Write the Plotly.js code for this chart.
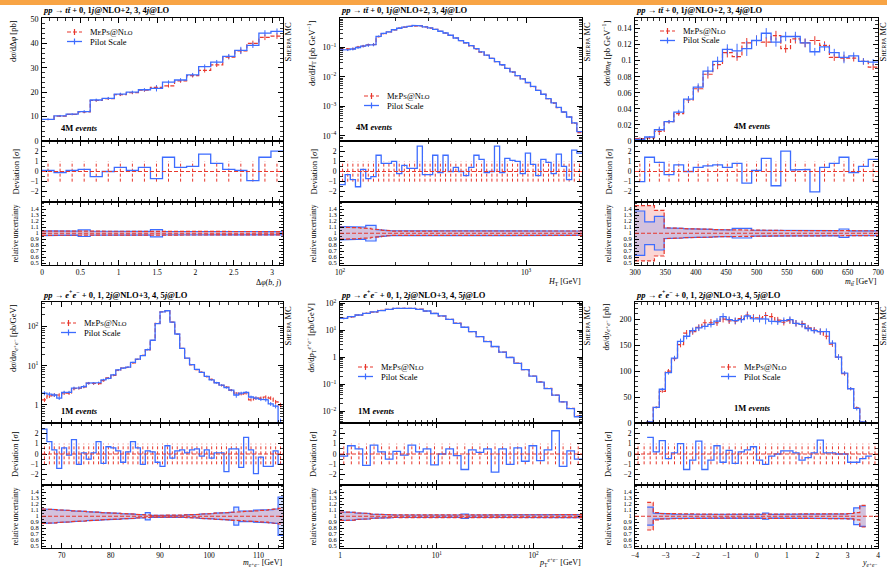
<!DOCTYPE html>
<html>
<head>
<meta charset="utf-8">
<script src="https://cdn.plot.ly/plotly-3.0.1.min.js"></script>
<style>
html,body{margin:0;padding:0;background:#ffffff;}
#chart{width:887px;height:567px;}
</style>
</head>
<body>
<div id="chart"></div>
<script>
// ================= DATA =================
// binning: [low, high, number of bins, logarithmic]
const dphiBinning = [0, Math.PI, 20, false];
const dphiRef   = [8.8,10.2,10.9,11.9,16.6,17.4,19.0,19.8,20.8,22.0,22.6,24.6,26.8,28.9,31.2,34.4,36.9,40.0,42.5,43.0];
const dphiPilot = [8.9,10.3,11.0,12.0,16.8,17.5,19.2,20.0,21.0,21.6,24.1,25.0,27.1,30.5,32.3,34.7,37.1,39.2,44.2,44.9];
const dphiDev   = [0.1,-0.1,0.1,0.2,-0.5,0.0,0.4,0.1,0.4,-0.7,1.4,0.4,0.5,1.7,0.8,0.2,0.1,-0.9,1.4,2.0];
const dphiRelRef   = [0.035,0.035,0.033,0.033,0.032,0.032,0.031,0.031,0.030,0.030,0.030,0.030,0.029,0.029,0.028,0.028,0.028,0.028,0.027,0.027];
const dphiRelPilot = [0.040,0.036,0.033,0.055,0.034,0.032,0.031,0.031,0.030,0.060,0.030,0.030,0.029,0.029,0.028,0.028,0.040,0.028,0.027,0.027];

const htBinning = [100, 2000, 47, true];
const htRef = [0.088,0.086,0.091,0.104,0.111,0.122,0.127,0.235,0.295,0.335,
               0.395,0.452,0.487,0.518,0.545,0.545,0.498,0.455,0.41,0.35,
               0.31,0.258,0.21,0.171,0.144,0.114,0.089,0.07,0.0545,0.043,
               0.033,0.0255,0.0195,0.0146,0.011,0.0086,0.0064,0.0047,0.0035,0.0026,
               0.00183,0.0013,0.00092,0.00064,0.00044,0.00027,0.00013];
const htPilot = [0.083,0.085,0.089,0.10,0.112,0.12,0.126,0.24,0.30,0.34,
                 0.40,0.45,0.49,0.52,0.56,0.54,0.50,0.46,0.41,0.355,
                 0.31,0.26,0.21,0.17,0.145,0.115,0.091,0.071,0.055,0.043,
                 0.033,0.026,0.0195,0.0148,0.0112,0.0087,0.0065,0.0048,0.0035,0.0026,
                 0.00186,0.00132,0.00093,0.00065,0.00044,0.00028,0.00014];
const htDev = [-1.3,-0.3,-0.8,-1.5,0.2,-0.7,-0.5,1.6,0.8,0.8,
               1.0,-0.2,0.6,0.3,0.3,2.5,-0.3,-0.3,1.6,-0.1,
               1.6,0.0,0.4,0.0,-0.4,0.4,1.6,1.2,-0.1,0.0,
               2.5,-0.1,1.3,1.1,1.0,-0.2,1.8,0.7,-0.4,1.2,
               0.9,-0.2,1.7,0.5,-0.8,2.1,1.8];
const htRelRef = [0.100,0.100,0.095,0.090,0.085,0.080,0.070,0.060,0.050,0.042,
                  0.036,0.033,0.032,0.031,0.030,0.030,0.030,0.030,0.030,0.030,
                  0.030,0.030,0.030,0.030,0.030,0.030,0.030,0.030,0.030,0.030,
                  0.030,0.030,0.030,0.030,0.030,0.030,0.030,0.030,0.030,0.030,
                  0.030,0.030,0.030,0.032,0.033,0.035,0.037];
const htRelPilot = [0.110,0.110,0.110,0.105,0.100,0.130,0.130,0.060,0.050,0.042,
                    0.036,0.033,0.032,0.031,0.030,0.038,0.030,0.030,0.030,0.030,
                    0.030,0.030,0.030,0.030,0.030,0.030,0.030,0.030,0.030,0.030,
                    0.030,0.030,0.030,0.030,0.040,0.040,0.030,0.030,0.030,0.030,
                    0.030,0.030,0.030,0.032,0.040,0.040,0.037];

const mttBinning = [300, 700, 25, false];
const mttRef   = [0.003,0.004,0.012,0.024,0.034,0.051,0.065,0.083,0.095,0.110,0.105,0.122,0.125,0.123,0.131,0.115,0.127,0.122,0.125,0.119,0.104,0.103,0.103,0.099,0.092];
const mttPilot = [0.002,0.005,0.014,0.024,0.036,0.052,0.067,0.087,0.099,0.114,0.112,0.115,0.125,0.134,0.123,0.130,0.130,0.122,0.111,0.117,0.110,0.104,0.106,0.099,0.098];
const mttDev   = [-1.0,1.4,0.9,-0.3,0.65,0.0,0.4,0.55,0.65,0.4,0.8,-1.15,0.1,1.3,-1.4,2.0,0.15,0.2,-2.0,0.4,0.8,1.4,-0.1,0.5,1.2];
const mttRelRef   = [0.46,0.46,0.38,0.090,0.080,0.075,0.070,0.065,0.060,0.055,0.050,0.050,0.050,0.048,0.046,0.045,0.045,0.044,0.043,0.042,0.042,0.041,0.040,0.040,0.040];
const mttRelPilot = [0.37,0.19,0.28,0.090,0.080,0.075,0.070,0.065,0.060,0.055,0.080,0.080,0.050,0.048,0.046,0.045,0.045,0.044,0.043,0.042,0.042,0.070,0.040,0.040,0.040];

const meeBinning = [66, 115, 49, false];
const meeRef = [1.35,1.7,1.8,1.8,2.0,2.0,2.6,2.7,2.9,3.6,
                3.5,3.5,4.2,4.9,5.7,7.7,8.8,9.2,11.8,14.6,
                18.6,25.5,45,122,238,255,131,64,28,15.6,
                10.6,8.0,6.9,5.3,4.5,3.7,3.15,2.85,2.4,2.0,
                1.9,2.0,1.35,1.5,1.5,1.6,1.5,1.2,1.0];
const meePilot = [2.0,1.9,1.8,1.5,2.1,2.1,2.7,2.75,2.95,3.6,
                  3.6,3.7,4.4,4.8,5.9,7.9,8.7,9.3,12.3,14.8,
                  18.2,26,45,120,240,255,130,65,28,15.8,
                  10.7,8.1,6.8,5.4,4.4,3.7,3.2,2.8,2.4,1.8,
                  2.0,2.1,1.6,1.5,1.4,1.35,1.07,0.93,0.34];
const meeDev = [2.4,1.2,0.4,-1.4,0.6,-0.1,1.4,-1.0,0.1,-0.5,
                0.1,1.2,-0.9,0.7,0.6,0.3,-0.8,0.2,1.2,0.6,
                -1.0,0.3,0.2,-0.8,-1.2,0.8,-0.4,0.3,0.4,0.1,
                0.4,0.5,-0.2,0.4,-0.4,0.1,0.1,-1.7,0.5,0.5,
                -1.3,1.6,0.4,-1.9,-0.3,-1.2,-1.2,0.3,-1.0];
const meeRelRef = [0.120,0.115,0.110,0.105,0.100,0.095,0.090,0.085,0.080,0.075,
                   0.070,0.065,0.060,0.056,0.052,0.048,0.044,0.040,0.035,0.030,
                   0.026,0.020,0.015,0.010,0.006,0.006,0.010,0.014,0.018,0.022,
                   0.026,0.030,0.035,0.040,0.045,0.050,0.055,0.060,0.065,0.070,
                   0.075,0.080,0.085,0.090,0.095,0.100,0.110,0.120,0.130];
const meeRelPilot = [0.120,0.115,0.110,0.105,0.100,0.095,0.090,0.085,0.080,0.075,
                     0.070,0.065,0.060,0.056,0.052,0.048,0.044,0.040,0.035,0.030,
                     0.026,0.060,0.015,0.010,0.006,0.006,0.010,0.014,0.018,0.022,
                     0.026,0.030,0.035,0.040,0.045,0.050,0.055,0.060,0.065,0.150,
                     0.090,0.080,0.085,0.100,0.100,0.100,0.110,0.120,0.320];

const ptBinning = [1, 316.2, 32, true];
const ptRef   = [27.8,31.5,36.5,43,47.5,54.5,59.5,65.5,67,64.5,
                 61,51.5,42.5,33.8,25.5,18.3,12.9,8.9,5.75,3.9,
                 2.48,1.56,0.99,0.6,0.35,0.201,0.121,0.07,0.039,0.0222,
                 0.0126,0.0066];
const ptPilot = [27.5,32,37,42.5,48,54,60,65,67,65,
                 60,52,42,34,25.5,18,13,8.9,5.8,3.8,
                 2.5,1.55,0.98,0.59,0.35,0.20,0.12,0.069,0.039,0.022,
                 0.0125,0.0062];
const ptDev = [-0.2,0.8,0.5,-1.1,0.85,0.2,-0.5,0.25,-0.1,0.85,
               0.2,0.5,-1.05,0.0,0.5,-0.15,-1.5,0.4,0.15,0.5,
               -1.75,0.5,-1.0,0.6,-0.7,0.8,-0.65,0.4,2.25,-1.2,
               0.3,-0.5];
const ptRelRef = [0.070,0.065,0.055,0.045,0.035,0.028,0.024,0.022,0.020,0.020,
                  0.020,0.020,0.020,0.020,0.020,0.020,0.020,0.020,0.020,0.020,
                  0.020,0.020,0.020,0.020,0.020,0.020,0.020,0.020,0.020,0.020,
                  0.022,0.025];
const ptRelPilot = [0.070,0.065,0.055,0.045,0.035,0.028,0.024,0.022,0.020,0.020,
                    0.020,0.020,0.020,0.020,0.020,0.020,0.035,0.020,0.020,0.020,
                    0.025,0.020,0.030,0.020,0.025,0.020,0.020,0.022,0.020,0.020,
                    0.022,0.025];

const yBinning = [-4, 4, 40, false];
const yRef   = [0,0,2,30,61,100,124,151,173,176,
                184,193,194,193,200,197,196,201,208,203,
                202,207,205,198,194,197,192,191,183,179,
                176,167,152,127,95,66,29,2,0,0];
const yPilot = [0,0,2,30,65,97,125,157,167,178,
                183,186,190,196,205,199,197,199,206,201,
                200,200,196,195,197,199,192,190,182,178,
                176,176,154,127,96,66,28,2,0,0];
const yDev = [null,null,1.6,0.2,1.3,-0.45,0.1,1.0,-1.5,-0.6,
              1.25,-1.5,-0.6,0.8,-0.8,0.35,-0.9,0.2,0.4,0.7,
              -0.6,-1.0,-0.2,0.0,0.3,0.3,0.1,-0.6,-0.35,0.1,
              1.35,0.1,0.1,0.0,0.0,-0.8,-0.8,-0.45,-0.2,null];
const yRelRef = [null,null,0.230,0.060,0.045,0.040,0.040,0.035,0.035,0.035,
                 0.033,0.033,0.033,0.032,0.032,0.032,0.032,0.032,0.032,0.032,
                 0.032,0.032,0.032,0.032,0.032,0.032,0.032,0.033,0.033,0.033,
                 0.034,0.035,0.035,0.040,0.040,0.045,0.060,0.180,null,null];
const yRelPilot = [null,null,0.150,0.050,0.040,0.040,0.035,0.035,0.035,0.033,
                   0.033,0.033,0.032,0.032,0.032,0.032,0.032,0.032,0.032,0.032,
                   0.032,0.050,0.032,0.032,0.032,0.032,0.032,0.033,0.033,0.033,
                   0.034,0.035,0.035,0.040,0.040,0.045,0.140,0.170,null,null];

const legendRef = 'M<span style="font-size:6.5px">E</span>P<span style="font-size:6.5px">S</span>@N<span style="font-size:6.5px">LO</span>';
const legendPilot = 'Pilot Scale';

// ================= STYLE / GEOMETRY =================
const RED = '#e8372c', BLUE = '#3d6cff';
const RED_FILL = 'rgba(235,70,60,0.22)', BLUE_FILL = 'rgba(70,120,255,0.22)';
const FONT = 'Liberation Serif, DejaVu Serif, serif';
const W = 887, H = 567;
const px = v => v / W;
const py = v => 1 - v / H;
const cols = [[42,283],[340,582],[635,878]];
const rows = [{main:[18,141],dev:[141,202],rel:[202,265],xt:17},{main:[302,423],dev:[423,485],rel:[485,548],xt:14.5}];

function logMinor(d0, d1) { const v = []; for (let d = d0; d <= d1; d++) for (let m = 2; m <= 9; m++) v.push(m * Math.pow(10, d)); return v; }
const sup = s => '10<sup>' + s + '</sup>';

const ttTitle = '<b><i>pp</i> → <i>t</i><i>t̄</i> + 0, 1<i>j</i>@NLO+2, 3, 4<i>j</i>@LO</b>';
const eeTitle = '<b><i>pp</i> → <i>e</i><sup>+</sup><i>e</i><sup>−</sup> + 0, 1, 2<i>j</i>@NLO+3, 4, 5<i>j</i>@LO</b>';

const panels = [
  {col:0,row:0,binning:dphiBinning,ref:dphiRef,pilot:dphiPilot,dev:dphiDev,relRef:dphiRelRef,relPilot:dphiRelPilot,
   title:ttTitle,events:'4M',evPos:[60,128],leg:[67,32],
   x:{type:'linear',range:[0,Math.PI],dtick:0.5,minor:{dtick:0.1}},
   y:{type:'linear',range:[0,50.4],dtick:10,minor:{dtick:2}},
   ytitle:'d<i>σ</i>/dΔ<i>φ</i> [pb]', xtitle:'Δ<i>φ</i>(<i>b</i>, <i>j</i>)'},
  {col:1,row:0,binning:htBinning,ref:htRef,pilot:htPilot,dev:htDev,relRef:htRelRef,relPilot:htRelPilot,
   title:ttTitle,events:'4M',evPos:[355,127],leg:[364,96],
   x:{type:'log',range:[2,Math.log10(2000)],tickvals:[100,1000],ticktext:[sup(2),sup(3)],minor:{tickmode:'array',tickvals:logMinor(2,3)}},
   y:{type:'log',range:[-4.17,0],tickvals:[1e-4,1e-3,1e-2,1e-1],ticktext:[sup('−4'),sup('−3'),sup('−2'),sup('−1')],minor:{tickmode:'array',tickvals:logMinor(-5,-1)}},
   ytitle:'d<i>σ</i>/d<i>H</i><sub>T</sub> [pb GeV<sup>−1</sup>]', xtitle:'<i>H</i><sub>T</sub> [GeV]'},
  {col:2,row:0,binning:mttBinning,ref:mttRef,pilot:mttPilot,dev:mttDev,relRef:mttRelRef,relPilot:mttRelPilot,
   title:ttTitle,events:'4M',evPos:[733,126],leg:[660,31],
   x:{type:'linear',range:[300,700],dtick:50,minor:{dtick:10}},
   y:{type:'linear',range:[0,0.153],dtick:0.02,minor:{dtick:0.005}},
   ytitle:'d<i>σ</i>/d<i>m</i><sub><i>tt̄</i></sub> [pb GeV<sup>−1</sup>]', xtitle:'<i>m</i><sub><i>tt̄</i></sub> [GeV]'},
  {col:0,row:1,binning:meeBinning,ref:meeRef,pilot:meePilot,dev:meeDev,relRef:meeRelRef,relPilot:meeRelPilot,
   title:eeTitle,events:'1M',evPos:[60,411],leg:[61,323],
   x:{type:'linear',range:[66,115],dtick:10,minor:{dtick:2}},
   y:{type:'log',range:[-0.46,2.63],tickvals:[1,10,100],ticktext:['1',sup(1),sup(2)],minor:{tickmode:'array',tickvals:logMinor(-1,2)}},
   ytitle:'d<i>σ</i>/d<i>m</i><sub><i>e</i>⁺<i>e</i>⁻</sub> [pb/GeV]', xtitle:'<i>m</i><sub><i>e</i>⁺<i>e</i>⁻</sub> [GeV]'},
  {col:1,row:1,binning:ptBinning,ref:ptRef,pilot:ptPilot,dev:ptDev,relRef:ptRelRef,relPilot:ptRelPilot,
   title:eeTitle,events:'1M',evPos:[357,411],leg:[358,367],
   x:{type:'log',range:[0,2.5],tickvals:[1,10,100],ticktext:['1',sup(1),sup(2)],minor:{tickmode:'array',tickvals:logMinor(0,2)}},
   y:{type:'log',range:[-2.44,2.05],tickvals:[0.01,0.1,1,10,100],ticktext:[sup('−2'),sup('−1'),'1',sup(1),sup(2)],minor:{tickmode:'array',tickvals:logMinor(-3,2)}},
   ytitle:'d<i>σ</i>/d<i>p</i><sub>T</sub><sup><i>e</i>⁺<i>e</i>⁻</sup> [pb/GeV]', xtitle:'<i>p</i><sub>T</sub><sup><i>e</i>⁺<i>e</i>⁻</sup> [GeV]'},
  {col:2,row:1,binning:yBinning,ref:yRef,pilot:yPilot,dev:yDev,relRef:yRelRef,relPilot:yRelPilot,
   title:eeTitle,events:'1M',evPos:[733,408],leg:[721,367],
   x:{type:'linear',range:[-4,4],dtick:1,minor:{dtick:0.2}},
   y:{type:'linear',range:[0,233],dtick:50,minor:{dtick:10}},
   ytitle:'d<i>σ</i>/d<i>y</i><sub><i>e</i>⁺<i>e</i>⁻</sub> [pb]', xtitle:'<i>y</i><sub><i>e</i>⁺<i>e</i>⁻</sub>'}
];

// ================= HELPERS =================
function binEdges(b) {
  const [lo, hi, n, lg] = b; const e = [];
  for (let i = 0; i <= n; i++) e.push(lg ? Math.pow(10, Math.log10(lo) + (Math.log10(hi) - Math.log10(lo)) * i / n) : lo + (hi - lo) * i / n);
  return e;
}
function binCenters(e, lg) { const c = []; for (let i = 0; i < e.length - 1; i++) c.push(lg ? Math.sqrt(e[i] * e[i + 1]) : (e[i] + e[i + 1]) / 2); return c; }
function stepXY(e, v) {
  const x = [], y = []; let open = false;
  for (let i = 0; i < v.length; i++) {
    if (v[i] == null) { if (open) { x.push(null); y.push(null); open = false; } continue; }
    x.push(e[i], e[i + 1]); y.push(v[i], v[i]); open = true;
  }
  return {x, y};
}
function bandXY(e, r) {
  const x = [], y = []; let seg = [];
  const flush = () => {
    if (!seg.length) return;
    seg.forEach(i => { x.push(e[i], e[i + 1]); y.push(1 + r[i], 1 + r[i]); });
    seg.slice().reverse().forEach(i => { x.push(e[i + 1], e[i]); y.push(1 - r[i], 1 - r[i]); });
    x.push(null); y.push(null); seg = [];
  };
  r.forEach((v, i) => { if (v == null) flush(); else seg.push(i); });
  flush();
  return {x, y};
}
const axName = n => n === 1 ? '' : String(n);
function baseAxis(extra) {
  return Object.assign({showline:true, linecolor:'#000', linewidth:1, mirror:'allticks', ticks:'inside', ticklen:5, tickwidth:1,
    tickcolor:'#000', showgrid:false, zeroline:false, ticklabelstandoff:1, tickfont:{family:FONT, size:8, color:'#000'}}, extra);
}
function minorOf(m) { return Object.assign({ticks:'inside', ticklen:3, tickwidth:0.8, tickcolor:'#000', showgrid:false}, m); }
function ann(text, x, y, o) {
  return Object.assign({xref:'paper', yref:'paper', x:px(x), y:py(y), text, showarrow:false,
    font:{family:FONT, size:9, color:'#000'}, xanchor:'left', yanchor:'middle', borderpad:0}, o || {});
}

// ================= BUILD =================
const traces = [];
const layout = {width:W, height:H, margin:{l:0, r:0, t:0, b:0}, paper_bgcolor:'#fff', plot_bgcolor:'rgba(0,0,0,0)',
  showlegend:false, annotations:[], shapes:[]};

// orange top bar
layout.shapes.push({type:'rect', xref:'paper', yref:'paper', x0:0, x1:1, y0:py(5), y1:1, fillcolor:'#f8a445', line:{width:0}, layer:'below'});

panels.forEach((P, p) => {
  const lg = P.binning[3];
  const e = binEdges(P.binning), c = binCenters(e, lg);
  const [cl, cr] = cols[P.col], R = rows[P.row];
  const nm = p * 3 + 1, nd = p * 3 + 2, nr = p * 3 + 3;
  const xm = 'x' + axName(nm), ym = 'y' + axName(nm);
  const xd = 'x' + axName(nd), yd = 'y' + axName(nd);
  const xr = 'x' + axName(nr), yr = 'y' + axName(nr);

  // ---- axes ----
  const xcfg = s => {
    const o = {domain:[px(cl), px(cr)], type:P.x.type, range:P.x.range, showticklabels:s === 2, minor:minorOf(P.x.minor)};
    if (P.x.tickvals) { o.tickmode = 'array'; o.tickvals = P.x.tickvals; o.ticktext = P.x.ticktext; } else { o.dtick = P.x.dtick; o.tick0 = 0; }
    return o;
  };
  const ymain = {domain:[py(R.main[1]), py(R.main[0])], type:P.y.type, range:P.y.range, minor:minorOf(P.y.minor)};
  if (P.y.tickvals) { ymain.tickmode = 'array'; ymain.tickvals = P.y.tickvals; ymain.ticktext = P.y.ticktext; } else { ymain.dtick = P.y.dtick; ymain.tick0 = 0; }
  layout['xaxis' + axName(nm)] = baseAxis(Object.assign(xcfg(0), {anchor:ym}));
  layout['xaxis' + axName(nd)] = baseAxis(Object.assign(xcfg(1), {anchor:yd}));
  layout['xaxis' + axName(nr)] = baseAxis(Object.assign(xcfg(2), {anchor:yr, ticklabelstandoff:0, tickfont:{family:FONT, size:7.5, color:'#000'}}));
  layout['yaxis' + axName(nm)] = baseAxis(Object.assign(ymain, {anchor:xm}));
  layout['yaxis' + axName(nd)] = baseAxis({domain:[py(R.dev[1]), py(R.dev[0])], anchor:xd, range:[-3, 3],
    tickmode:'array', tickvals:[-2,-1,0,1,2], ticktext:['−2','−1','0','1','2'], tickfont:{family:FONT, size:7.5, color:'#000'},
    minor:minorOf({tickmode:'array', tickvals:[-2.5,-1.5,-0.5,0.5,1.5,2.5]})});
  layout['yaxis' + axName(nr)] = baseAxis({domain:[py(R.rel[1]), py(R.rel[0])], anchor:xr, range:[0.47, 1.52],
    tickmode:'array', tickvals:[0.5,0.6,0.7,0.8,0.9,1.0,1.1,1.2,1.3,1.4], ticktext:['0.5','0.6','0.7','0.8','0.9','1','1.1','1.2','1.3','1.4'],
    tickfont:{family:FONT, size:6.5, color:'#000'}, ticklen:4,
    minor:minorOf({dtick:0.05, tick0:0, ticklen:2})});

  // ---- main panel ----
  const sRef = stepXY(e, P.ref), sPil = stepXY(e, P.pilot);
  const errRef = P.ref.map((v, i) => v * (P.relRef[i] || 0));
  const errPil = P.pilot.map((v, i) => v * (P.relPilot[i] || 0));
  traces.push({type:'scatter', mode:'markers', x:c, y:P.ref, xaxis:xm, yaxis:ym, marker:{size:2, color:'rgba(0,0,0,0)'},
    error_y:{type:'data', array:errRef, visible:true, color:RED, thickness:1, width:0}, hoverinfo:'skip'});
  traces.push({type:'scatter', mode:'markers', x:c, y:P.pilot, xaxis:xm, yaxis:ym, marker:{size:2, color:'rgba(0,0,0,0)'},
    error_y:{type:'data', array:errPil, visible:true, color:BLUE, thickness:1, width:0}, hoverinfo:'skip'});
  traces.push({type:'scatter', mode:'lines', x:sRef.x, y:sRef.y, xaxis:xm, yaxis:ym, line:{color:RED, width:1.2, dash:'4px,2px'}, hoverinfo:'skip'});
  traces.push({type:'scatter', mode:'lines', x:sPil.x, y:sPil.y, xaxis:xm, yaxis:ym, line:{color:BLUE, width:1.3}, hoverinfo:'skip'});

  // ---- deviation panel ----
  const vx = [], vy = [];
  c.forEach(cc => { vx.push(cc, cc, null); vy.push(-1, 1, null); });
  traces.push({type:'scatter', mode:'lines', x:vx, y:vy, xaxis:xd, yaxis:yd, line:{color:RED, width:1, dash:'3px,2px'}, hoverinfo:'skip'});
  layout.shapes.push({type:'line', xref:xd + ' domain', yref:yd, x0:0, x1:1, y0:0, y1:0, line:{color:RED, width:1.1, dash:'4px,2px'}});
  const sDev = stepXY(e, P.dev);
  traces.push({type:'scatter', mode:'lines', x:sDev.x, y:sDev.y, xaxis:xd, yaxis:yd, line:{color:BLUE, width:1.3}, hoverinfo:'skip'});

  // ---- relative uncertainty panel ----
  const bRef = bandXY(e, P.relRef), bPil = bandXY(e, P.relPilot);
  traces.push({type:'scatter', mode:'lines', x:bRef.x, y:bRef.y, xaxis:xr, yaxis:yr, fill:'toself', fillcolor:RED_FILL, line:{width:0}, hoverinfo:'skip'});
  traces.push({type:'scatter', mode:'lines', x:bPil.x, y:bPil.y, xaxis:xr, yaxis:yr, fill:'toself', fillcolor:BLUE_FILL, line:{width:0}, hoverinfo:'skip'});
  const upR = stepXY(e, P.relRef.map(r => r == null ? null : 1 + r));
  const loR = stepXY(e, P.relRef.map(r => r == null ? null : 1 - r));
  const upP = stepXY(e, P.relPilot.map(r => r == null ? null : 1 + r));
  const loP = stepXY(e, P.relPilot.map(r => r == null ? null : 1 - r));
  [upP, loP].forEach(s => traces.push({type:'scatter', mode:'lines', x:s.x, y:s.y, xaxis:xr, yaxis:yr, line:{color:BLUE, width:1.2}, hoverinfo:'skip'}));
  [upR, loR].forEach(s => traces.push({type:'scatter', mode:'lines', x:s.x, y:s.y, xaxis:xr, yaxis:yr, line:{color:RED, width:1.2, dash:'4px,2px'}, hoverinfo:'skip'}));
  layout.shapes.push({type:'line', xref:xr + ' domain', yref:yr, x0:0, x1:1, y0:1, y1:1, line:{color:RED, width:1.1, dash:'4px,2px'}});

  // ---- texts ----
  layout.annotations.push(ann(P.title, cl, R.main[0] - 8, {font:{family:FONT, size:8.5, color:'#000'}}));
  layout.annotations.push(ann('S<span style="font-size:6px">HERPA</span> MC', cr + 4.5, R.main[0] + 24, {textangle:-90, xanchor:'center', yanchor:'middle', font:{family:FONT, size:8.5, color:'#000'}}));
  layout.annotations.push(ann('<b>' + P.events + ' <i>events</i></b>', P.evPos[0], P.evPos[1], {font:{family:FONT, size:8.5, color:'#000'}}));
  layout.annotations.push(ann(P.ytitle, cl - 29, R.main[0] + 1, {textangle:-90, xanchor:'center', yanchor:'top', font:{family:FONT, size:8.5, color:'#000'}}));
  layout.annotations.push(ann('Deviation [<i>σ</i>]', cl - 27, (R.dev[0] + R.dev[1]) / 2, {textangle:-90, xanchor:'center', yanchor:'middle', font:{family:FONT, size:8.5, color:'#000'}}));
  layout.annotations.push(ann('relative uncertainty', cl - 27, (R.rel[0] + R.rel[1]) / 2, {textangle:-90, xanchor:'center', yanchor:'middle', font:{family:FONT, size:7.5, color:'#000'}}));
  layout.annotations.push(ann(P.xtitle, cr, R.rel[1] + R.xt, {xanchor:'right', font:{family:FONT, size:8, color:'#000'}}));

  // ---- legend (drawn) ----
  const [lx, ly] = P.leg;
  layout.shapes.push({type:'line', xref:'paper', yref:'paper', x0:px(lx), x1:px(lx + 15), y0:py(ly), y1:py(ly), line:{color:RED, width:1.2, dash:'4px,2px'}});
  layout.shapes.push({type:'line', xref:'paper', yref:'paper', x0:px(lx + 7.5), x1:px(lx + 7.5), y0:py(ly - 3), y1:py(ly + 3), line:{color:RED, width:1.2}});
  layout.shapes.push({type:'line', xref:'paper', yref:'paper', x0:px(lx), x1:px(lx + 15), y0:py(ly + 9.5), y1:py(ly + 9.5), line:{color:BLUE, width:1.3}});
  layout.shapes.push({type:'line', xref:'paper', yref:'paper', x0:px(lx + 7.5), x1:px(lx + 7.5), y0:py(ly + 6.5), y1:py(ly + 12.5), line:{color:BLUE, width:1.2}});
  layout.annotations.push(ann(legendRef, lx + 22, ly, {font:{family:FONT, size:8.5, color:'#000'}}));
  layout.annotations.push(ann(legendPilot, lx + 22, ly + 9.5, {font:{family:FONT, size:8.5, color:'#000'}}));
});

Plotly.newPlot('chart', traces, layout, {staticPlot:true, displayModeBar:false});
</script>
</body>
</html>
